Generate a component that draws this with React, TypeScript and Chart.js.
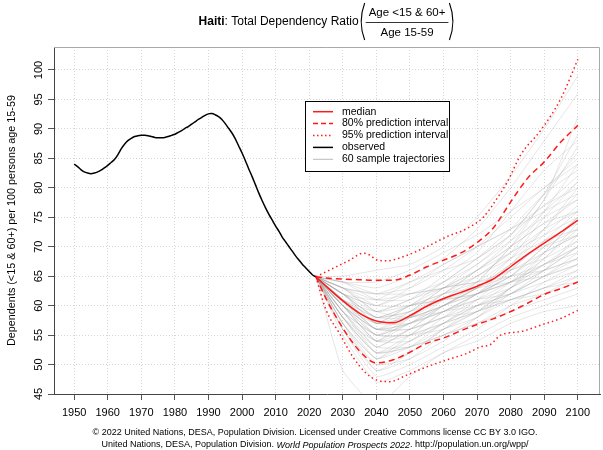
import React, { useEffect, useRef } from "react";
import { Chart, registerables } from "chart.js";

Chart.register(...registerables);

const FONT = '"Liberation Sans", Arial, Helvetica, sans-serif';

// ---------- data ----------
const xTicks = [1950, 1960, 1970, 1980, 1990, 2000, 2010, 2020, 2030, 2040, 2050, 2060, 2070, 2080, 2090, 2100];
const yTicks = [45, 50, 55, 60, 65, 70, 75, 80, 85, 90, 95, 100];

const observedStartYear = 1950;
const observedValues = [
  84.0, 83.6, 83.1, 82.7, 82.5, 82.4, 82.5, 82.7, 83.0, 83.4,
  83.8, 84.3, 84.8, 85.6, 86.6, 87.4, 88.0, 88.4, 88.7, 88.85,
  88.9, 88.9, 88.85, 88.7, 88.55, 88.5, 88.5, 88.55, 88.7, 88.9,
  89.1, 89.4, 89.7, 90.1, 90.4, 90.8, 91.2, 91.6, 91.95, 92.3,
  92.55, 92.6, 92.4, 92.1, 91.6, 90.9, 90.1, 89.3, 88.3, 87.1,
  85.9, 84.6, 83.2, 81.9, 80.5, 79.1, 77.8, 76.6, 75.5, 74.5,
  73.5, 72.6, 71.6, 70.8, 70.0, 69.2, 68.4, 67.7, 67.0, 66.4,
  65.8, 65.2, 64.9,
];

const medianYears = [2022, 2025, 2030, 2035, 2040, 2045, 2050, 2055, 2060, 2065, 2070, 2075, 2080, 2085, 2090, 2095, 2100];
const medianValues = [64.9, 63.3, 60.8, 58.7, 57.4, 57.1, 58.3, 59.9, 61.2, 62.2, 63.3, 64.6, 66.6, 68.7, 70.6, 72.5, 74.5];

const pi80UpperYears = [2022, 2025, 2030, 2035, 2040, 2045, 2050, 2055, 2060, 2065, 2070, 2075, 2080, 2085, 2090, 2095, 2100];
const pi80UpperValues = [64.9, 64.7, 64.5, 64.4, 64.3, 64.3, 65.2, 66.6, 67.7, 68.9, 70.7, 73.3, 77.6, 81.6, 84.4, 87.8, 90.6];

const pi80LowerYears = [2022, 2025, 2030, 2035, 2040, 2045, 2050, 2055, 2060, 2065, 2070, 2075, 2080, 2085, 2090, 2095, 2100];
const pi80LowerValues = [64.9, 61.2, 56.2, 52.3, 50.3, 50.8, 52.1, 53.6, 54.5, 55.7, 56.8, 57.8, 59.0, 60.4, 61.9, 62.9, 64.0];

const pi95UpperYears = [2022, 2027, 2032, 2036, 2038, 2040, 2043, 2048, 2055, 2061, 2067, 2072, 2075, 2079, 2083, 2089, 2095, 2100];
const pi95UpperValues = [64.9, 66.3, 67.7, 68.9, 68.6, 67.8, 67.6, 68.3, 70.0, 71.7, 73.1, 75.1, 77.4, 81.0, 85.6, 89.8, 95.2, 101.8];

const pi95LowerYears = [2022, 2025, 2029, 2033, 2037, 2040, 2044, 2049, 2055, 2061, 2067, 2071, 2074, 2077, 2083, 2089, 2095, 2100];
const pi95LowerValues = [64.9, 59.3, 55.3, 51.3, 48.5, 47.4, 47.1, 48.2, 49.6, 50.8, 51.9, 53.0, 53.4, 55.0, 55.6, 56.7, 57.85, 59.2];

const projectionStart = 64.9;
const sampleYears = [2022, 2030, 2040, 2050, 2060, 2070, 2080, 2090, 2100];
const sampleTrajectories = [
  [61, 56, 57, 60, 63, 67, 72, 77],
  [59, 52, 53, 56, 58, 62, 65, 68],
  [63, 61, 62, 64, 67, 72, 79, 86],
  [60, 55, 58, 62, 66, 70, 74, 76],
  [57, 49, 51, 55, 57, 60, 62, 65],
  [64, 63, 65, 68, 73, 80, 88, 96],
  [62, 58, 58, 60, 62, 64, 67, 70],
  [58, 51, 54, 57, 61, 66, 71, 74],
  [61, 57, 60, 63, 64, 66, 69, 72],
  [65, 66, 67, 70, 75, 82, 90, 99],
  [55, 47, 49, 52, 55, 58, 60, 62],
  [60, 54, 55, 59, 62, 65, 70, 73],
  [62, 59, 61, 65, 69, 76, 83, 88],
  [59, 53, 56, 58, 59, 61, 63, 66],
  [63, 60, 60, 62, 64, 68, 73, 79],
  [61, 58, 59, 61, 63, 66, 68, 71],
  [57, 50, 52, 56, 60, 64, 69, 75],
  [64, 62, 63, 66, 70, 75, 80, 84],
  [60, 56, 56, 58, 61, 64, 66, 68],
  [58, 52, 53, 55, 57, 59, 61, 63],
  [62, 57, 57, 59, 62, 67, 73, 80],
  [61, 55, 57, 60, 62, 64, 67, 70],
  [56, 48, 50, 53, 56, 60, 64, 67],
  [63, 62, 64, 67, 70, 73, 77, 82],
  [60, 54, 54, 57, 60, 62, 65, 67],
  [59, 54, 58, 62, 65, 69, 72, 75],
  [62, 60, 62, 63, 65, 69, 76, 84],
  [57, 51, 53, 57, 60, 61, 63, 64],
  [61, 56, 58, 61, 64, 70, 76, 81],
  [64, 64, 66, 69, 72, 76, 80, 85],
  [60, 55, 55, 57, 59, 62, 66, 72],
  [58, 53, 56, 60, 63, 65, 66, 68],
  [62, 58, 59, 62, 66, 70, 74, 78],
  [49, 43, 48, 52, 54, 57, 59, 60],
  [61, 59, 61, 63, 64, 65, 67, 69],
  [59, 55, 57, 59, 62, 66, 71, 76],
  [63, 59, 58, 60, 63, 68, 75, 81],
  [60, 56, 59, 63, 67, 71, 75, 78],
  [56, 50, 51, 54, 58, 63, 67, 71],
  [62, 58, 60, 62, 63, 64, 65, 67],
  [61, 57, 58, 60, 64, 70, 78, 87],
  [58, 52, 54, 58, 62, 65, 69, 72],
  [64, 61, 61, 64, 68, 72, 77, 80],
  [60, 57, 60, 61, 62, 64, 68, 74],
  [59, 53, 53, 55, 58, 61, 63, 65],
  [62, 60, 63, 67, 70, 73, 76, 79],
  [57, 51, 55, 59, 61, 62, 64, 66],
  [61, 56, 56, 58, 60, 63, 68, 73],
  [63, 62, 62, 63, 66, 71, 78, 92],
  [60, 54, 56, 60, 63, 67, 70, 72],
  [58, 54, 57, 59, 60, 62, 65, 69],
  [62, 57, 59, 63, 66, 69, 73, 76],
  [59, 55, 55, 56, 59, 63, 69, 75],
  [61, 58, 60, 64, 68, 73, 79, 83],
  [56, 49, 52, 56, 59, 61, 62, 64],
  [63, 59, 60, 61, 62, 65, 70, 75],
  [60, 56, 57, 61, 65, 68, 71, 73],
  [62, 61, 64, 66, 68, 72, 79, 89],
  [58, 52, 55, 57, 59, 63, 66, 70],
  [61, 57, 58, 59, 61, 63, 66, 70],
];

const legendLabels = ["median", "80% prediction interval", "95% prediction interval", "observed", "60 sample trajectories"];
const titleCountry = "Haiti";
const titleText = ": Total Dependency Ratio";
const titleNumerator = "Age <15 & 60+";
const titleDenominator = "Age 15-59";
const yAxisTitle = "Dependents (<15 & 60+) per 100 persons age 15-59";
const footerLine1 = "\u00A9 2022 United Nations, DESA, Population Division. Licensed under Creative Commons license CC BY 3.0 IGO.";
const footerLine2Parts = ["United Nations, DESA, Population Division. ", "World Population Prospects 2022", ". http://population.un.org/wpp/"];

// ---------- styling ----------
const RED = "#ff1a1a";
const SAMPLE_GRAY = "rgba(165,165,165,0.38)";

const pts = (years: number[], vals: number[]) => years.map((yr, i) => ({ x: yr, y: vals[i] }));

const decorPlugin = {
  id: "decor",
  afterDraw(chart: any) {
    const { ctx, chartArea: a, scales } = chart;
    const xs = scales.x;
    const ys = scales.y;
    ctx.save();
    // top/right frame
    ctx.strokeStyle = "#a8a8a8";
    ctx.lineWidth = 1;
    ctx.beginPath();
    ctx.moveTo(a.left, a.top + 0.5);
    ctx.lineTo(a.right - 0.5, a.top + 0.5);
    ctx.lineTo(a.right - 0.5, a.bottom);
    ctx.stroke();

    ctx.fillStyle = "#000";
    // x tick labels
    ctx.font = `11px ${FONT}`;
    ctx.textAlign = "center";
    ctx.textBaseline = "middle";
    xTicks.forEach((v) => ctx.fillText(String(v), xs.getPixelForValue(v), a.bottom + 19));
    // y tick labels (rotated)
    yTicks.forEach((v) => {
      ctx.save();
      ctx.translate(a.left - 15, ys.getPixelForValue(v));
      ctx.rotate(-Math.PI / 2);
      ctx.fillText(String(v), 0, 0);
      ctx.restore();
    });
    // y axis title
    ctx.save();
    ctx.font = `10.8px ${FONT}`;
    ctx.translate(12, (a.top + a.bottom) / 2);
    ctx.rotate(-Math.PI / 2);
    ctx.fillText(yAxisTitle, 0, 0);
    ctx.restore();

    // title
    const cx = (a.left + a.right) / 2;
    ctx.font = `bold 12px ${FONT}`;
    const wBold = ctx.measureText(titleCountry).width;
    ctx.font = `12px ${FONT}`;
    const wText = ctx.measureText(titleText).width;
    ctx.font = `11.5px ${FONT}`;
    const wNum = ctx.measureText(titleNumerator).width;
    const wDen = ctx.measureText(titleDenominator).width;
    const fracW = Math.max(wNum, wDen) + 6;
    const parenW = 7;
    const total = wBold + wText + parenW * 2 + fracW;
    let x0 = cx - total / 2;
    const ty = 22;
    ctx.textAlign = "left";
    ctx.font = `bold 12px ${FONT}`;
    ctx.fillText(titleCountry, x0, ty);
    x0 += wBold;
    ctx.font = `12px ${FONT}`;
    ctx.fillText(titleText, x0, ty);
    x0 += wText;
    // left paren
    ctx.strokeStyle = "#000";
    ctx.lineWidth = 1.1;
    ctx.beginPath();
    ctx.moveTo(x0 + 6, 3);
    ctx.quadraticCurveTo(x0 - 1, 21.5, x0 + 6, 40);
    ctx.stroke();
    const fx = x0 + parenW;
    ctx.font = `11.5px ${FONT}`;
    ctx.textAlign = "center";
    ctx.fillText(titleNumerator, fx + fracW / 2, 13);
    ctx.fillText(titleDenominator, fx + fracW / 2, 32.5);
    ctx.beginPath();
    ctx.lineWidth = 0.8;
    ctx.moveTo(fx, 22.5);
    ctx.lineTo(fx + fracW, 22.5);
    ctx.stroke();
    const rx = fx + fracW;
    ctx.lineWidth = 1.1;
    ctx.beginPath();
    ctx.moveTo(rx + 1, 3);
    ctx.quadraticCurveTo(rx + 8, 21.5, rx + 1, 40);
    ctx.stroke();

    // footer
    ctx.fillStyle = "#000";
    ctx.font = `9px ${FONT}`;
    ctx.textAlign = "center";
    ctx.fillText(footerLine1, 315, 433);
    ctx.textAlign = "left";
    ctx.font = `9px ${FONT}`;
    const w1 = ctx.measureText(footerLine2Parts[0]).width;
    const w3 = ctx.measureText(footerLine2Parts[2]).width;
    ctx.font = `italic 9px ${FONT}`;
    const w2 = ctx.measureText(footerLine2Parts[1]).width;
    let fxs = 315 - (w1 + w2 + w3) / 2;
    ctx.font = `9px ${FONT}`;
    ctx.fillText(footerLine2Parts[0], fxs, 445);
    fxs += w1;
    ctx.font = `italic 9px ${FONT}`;
    ctx.fillText(footerLine2Parts[1], fxs, 445);
    fxs += w2;
    ctx.font = `9px ${FONT}`;
    ctx.fillText(footerLine2Parts[2], fxs, 445);

    // legend
    const lx = 305, ly = 101, lw = 144, lh = 70;
    ctx.fillStyle = "#fff";
    ctx.fillRect(lx, ly, lw, lh);
    const styles = [
      { color: RED, dash: [], width: 1.5 },
      { color: RED, dash: [5, 3], width: 1.5 },
      { color: RED, dash: [1.5, 2.5], width: 1.5 },
      { color: "#000", dash: [], width: 1.5 },
      { color: "#bbbbbb", dash: [], width: 1 },
    ];
    ctx.font = `10.5px ${FONT}`;
    ctx.textAlign = "left";
    ctx.textBaseline = "middle";
    legendLabels.forEach((lab, i) => {
      const yy = 111.7 + i * 11.9;
      const s = styles[i];
      ctx.strokeStyle = s.color;
      ctx.lineWidth = s.width;
      ctx.setLineDash(s.dash);
      ctx.beginPath();
      ctx.moveTo(313, yy);
      ctx.lineTo(333, yy);
      ctx.stroke();
      ctx.setLineDash([]);
      ctx.fillStyle = "#000";
      ctx.fillText(lab, 342, yy);
    });
    ctx.strokeStyle = "#000";
    ctx.lineWidth = 1;
    ctx.strokeRect(lx + 0.5, ly + 0.5, lw, lh);
    ctx.restore();
  },
};

export default function App() {
  const ref = useRef<HTMLCanvasElement | null>(null);
  useEffect(() => {
    if (!ref.current) return;
    const observedPts = observedValues.map((v, i) => ({ x: observedStartYear + i, y: v }));
    const sampleSets = sampleTrajectories.map((tr) => ({
      data: pts(sampleYears, [projectionStart, ...tr]),
      borderColor: SAMPLE_GRAY,
      borderWidth: 0.75,
      pointRadius: 0,
      tension: 0.15,
      order: 3,
    }));
    const chart = new Chart(ref.current, {
      type: "line",
      data: {
        datasets: [
          { data: pts(medianYears, medianValues), borderColor: RED, borderWidth: 1.5, pointRadius: 0, cubicInterpolationMode: "monotone", order: 0 },
          { data: pts(pi80UpperYears, pi80UpperValues), borderColor: RED, borderWidth: 1.5, borderDash: [6, 4], pointRadius: 0, cubicInterpolationMode: "monotone", order: 0 },
          { data: pts(pi80LowerYears, pi80LowerValues), borderColor: RED, borderWidth: 1.5, borderDash: [6, 4], pointRadius: 0, cubicInterpolationMode: "monotone", order: 0 },
          { data: pts(pi95UpperYears, pi95UpperValues), borderColor: RED, borderWidth: 1.5, borderDash: [1.5, 3], pointRadius: 0, cubicInterpolationMode: "monotone", order: 0 },
          { data: pts(pi95LowerYears, pi95LowerValues), borderColor: RED, borderWidth: 1.5, borderDash: [1.5, 3], pointRadius: 0, cubicInterpolationMode: "monotone", order: 0 },
          { data: observedPts, borderColor: "#000", borderWidth: 1.5, pointRadius: 0, tension: 0.3, order: 1 },
          ...sampleSets,
        ] as any,
      },
      options: {
        responsive: false,
        animation: false,
        devicePixelRatio: 1,
        layout: { padding: { left: 0, right: 3, top: 47, bottom: 0 } },
        plugins: { legend: { display: false }, tooltip: { enabled: false }, title: { display: false } },
        scales: {
          x: {
            type: "linear",
            min: 1944,
            max: 2106.6,
            afterBuildTicks: (s: any) => { s.ticks = xTicks.map((v) => ({ value: v })); },
            afterFit: (s: any) => { s.height = 56; },
            ticks: { display: false },
            grid: { color: "#d6d6d6", lineWidth: 1, drawTicks: true, tickLength: 6, tickColor: "#555", tickWidth: 1 },
            border: { display: true, color: "#444", width: 1, dash: [1, 2] },
          },
          y: {
            type: "linear",
            min: 45,
            max: 103.9,
            afterBuildTicks: (s: any) => { s.ticks = yTicks.map((v) => ({ value: v })); },
            afterFit: (s: any) => { s.width = 54; },
            ticks: { display: false },
            grid: { color: "#d6d6d6", lineWidth: 1, drawTicks: true, tickLength: 6, tickColor: "#555", tickWidth: 1 },
            border: { display: true, color: "#444", width: 1, dash: [1, 2] },
          },
        },
      } as any,
      plugins: [decorPlugin],
    });
    return () => chart.destroy();
  }, []);
  return (
    <div style={{ position: "absolute", left: 0, top: 0, width: 603, height: 450, background: "#fff" }}>
      <canvas ref={ref} width={603} height={450} style={{ display: "block" }} />
    </div>
  );
}
